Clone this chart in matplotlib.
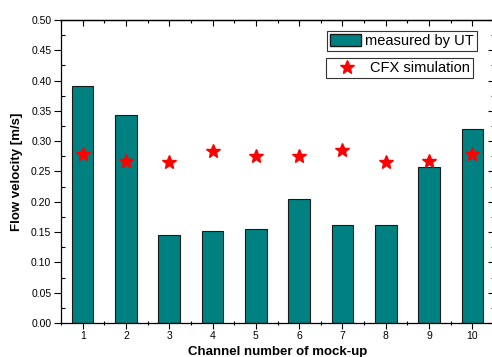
import matplotlib
matplotlib.use("Agg")
import matplotlib.pyplot as plt
from matplotlib.ticker import MultipleLocator, FormatStrFormatter, NullFormatter
from matplotlib.patches import Patch
from matplotlib.lines import Line2D

channels = [1, 2, 3, 4, 5, 6, 7, 8, 9, 10]
measured_ut = [0.391, 0.343, 0.146, 0.152, 0.155, 0.204, 0.161, 0.161, 0.258, 0.320]
cfx_sim = [0.279, 0.268, 0.265, 0.284, 0.276, 0.276, 0.285, 0.265, 0.267, 0.279]

plt.rcParams['font.family'] = ['Liberation Sans', 'DejaVu Sans']

fig = plt.figure(figsize=(4.92, 3.57), dpi=100)
W, H = 492, 357
ax = fig.add_axes([61 / W, 1 - 323 / H, (494 - 61) / W, (323 - 20) / H])

ax.bar(channels, measured_ut, width=0.5, color='#008080', edgecolor='#1a1a1a', linewidth=0.8, zorder=2)
ax.plot(channels, cfx_sim, linestyle='none', marker='*', color='red', markersize=10, zorder=3)

ax.set_xlim(0.5, 10.5)
ax.set_ylim(0, 0.5)
ax.set_xticks(channels)
ax.xaxis.set_minor_locator(MultipleLocator(0.5))
ax.yaxis.set_major_locator(MultipleLocator(0.05))
ax.yaxis.set_minor_locator(MultipleLocator(0.025))
ax.yaxis.set_major_formatter(FormatStrFormatter('%.2f'))

ax.tick_params(axis='y', which='major', direction='out', length=5, width=0.8, labelsize=7.5, pad=2)
ax.tick_params(axis='y', which='minor', direction='in', length=3, width=0.8)
ax.tick_params(axis='x', which='major', direction='inout', length=8, width=0.8, labelsize=7.5, pad=2)
ax.tick_params(axis='x', which='minor', direction='inout', length=3, width=0.8)

# top and right ticks pointing inward
secx = ax.secondary_xaxis('top')
secx.set_xticks(channels)
secx.xaxis.set_minor_locator(MultipleLocator(0.5))
secx.xaxis.set_major_formatter(NullFormatter())
secx.tick_params(which='major', direction='in', length=4, width=0.8)
secx.tick_params(which='minor', direction='in', length=2.5, width=0.8)
secx.spines['top'].set_linewidth(0.9)

secy = ax.secondary_yaxis('right')
secy.yaxis.set_major_locator(MultipleLocator(0.05))
secy.yaxis.set_minor_locator(MultipleLocator(0.025))
secy.yaxis.set_major_formatter(NullFormatter())
secy.tick_params(which='major', direction='in', length=4, width=0.8)
secy.tick_params(which='minor', direction='in', length=2.5, width=0.8)

ax.set_xlabel('Channel number of mock-up', fontsize=9.5, fontweight='bold', labelpad=3)
ax.set_ylabel('Flow velocity [m/s]', fontsize=9.5, fontweight='bold', labelpad=6)

for s in ax.spines.values():
    s.set_linewidth(0.9)

fs = 10.5
leg1 = ax.legend(handles=[Patch(facecolor='#008080', edgecolor='#1a1a1a', label='measured by UT')],
                 loc='upper left', bbox_to_anchor=((327 - 61) / (494 - 61), 1 - (31 - 20) / 303),
                 prop={'size': fs}, frameon=True, fancybox=False, edgecolor='#333333', framealpha=1,
                 borderpad=0.2, handlelength=2.1, handleheight=0.9, handletextpad=0.3, borderaxespad=0)
leg1.get_frame().set_linewidth(0.8)
ax.add_artist(leg1)
leg2 = ax.legend(handles=[Line2D([], [], linestyle='none', marker='*', color='red', markersize=10, label='CFX simulation')],
                 loc='upper left', bbox_to_anchor=((326 - 61) / (494 - 61), 1 - (58 - 20) / 303),
                 prop={'size': fs}, frameon=True, fancybox=False, edgecolor='#333333', framealpha=1,
                 borderpad=0.2, handlelength=2.5, handletextpad=0.3, borderaxespad=0)
leg2.get_frame().set_linewidth(0.8)

fig.savefig('out.png', dpi=100)
